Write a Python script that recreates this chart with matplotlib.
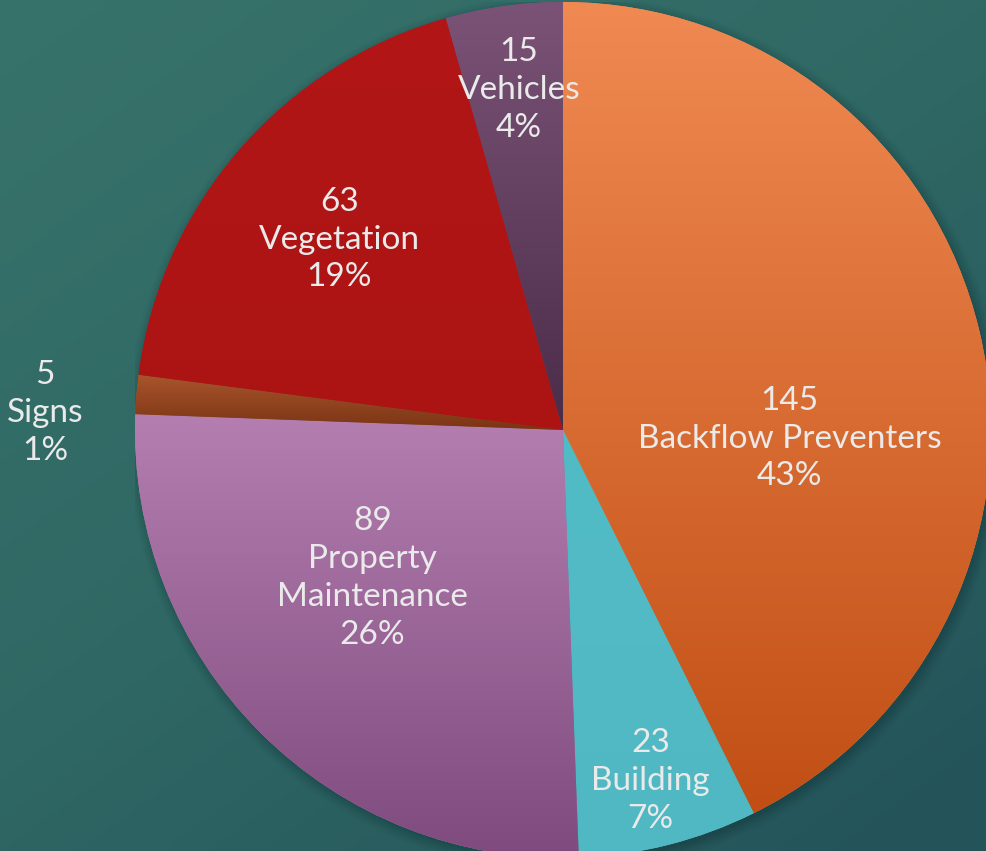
import numpy as np
import matplotlib
matplotlib.use('Agg')
import matplotlib.pyplot as plt
from matplotlib.colors import LinearSegmentedColormap

plt.rcParams['font.family'] = ['Lato', 'DejaVu Sans']

# 数据
categories = ['Backflow Preventers', 'Building', 'Property\nMaintenance',
              'Signs', 'Vegetation', 'Vehicles']
counts = [145, 23, 89, 5, 63, 15]
percents = ['43%', '7%', '26%', '1%', '19%', '4%']

# 每个扇区的渐变色（上 -> 下）
slice_top = ['#F08A52', '#52BCC6', '#B47FB0', '#A9552C', '#B21616', '#7B5377']
slice_bottom = ['#C14F15', '#50B8C2', '#7F4A7D', '#7A3414', '#AC1414', '#4A2C48']

# 标签位置（数据坐标，饼半径=1）
label_pos = [(0.53, -0.02), (0.205, -0.82), (-0.445, -0.345),
             (-1.21, 0.04), (-0.523, 0.445), (-0.103, 0.795)]

W, H = 986, 851
fig = plt.figure(figsize=(W / 100, H / 100), dpi=100)

# 背景渐变
bg = fig.add_axes([0, 0, 1, 1])
bg.set_axis_off()
yy, xx = np.mgrid[0:1:200j, 0:1:200j]
t = np.clip(0.5 * xx + 0.6 * yy - 0.05, 0, 1)
bg_cmap = LinearSegmentedColormap.from_list('bg', ['#37726A', '#2F6764', '#24545A'])
bg.imshow(t, cmap=bg_cmap, extent=[0, 1, 0, 1], aspect='auto', origin='upper')
bg.set_xlim(0, 1)
bg.set_ylim(0, 1)

# 饼图坐标轴：中心 (563, 430)，半径 428 像素
cx, cy, r = 563, 430, 428
ax = fig.add_axes([(cx - r) / W, (H - cy - r) / H, 2 * r / W, 2 * r / H])
ax.set_xlim(-1, 1)
ax.set_ylim(-1, 1)
ax.set_axis_off()

# 阴影
for k, a in zip(np.linspace(1.025, 1.0, 6), np.linspace(0.03, 0.08, 6)):
    ax.add_patch(plt.Circle((0.006, -0.008), k, color='#0c2a2c', alpha=a, lw=0, zorder=0))

wedges, _ = ax.pie(counts, startangle=90, counterclock=False, radius=1,
                   wedgeprops=dict(linewidth=0))

for w, c0, c1 in zip(wedges, slice_top, slice_bottom):
    w.set_facecolor(c0)
    w.set_zorder(1)
    ext = w.get_path().get_extents()
    cm = LinearSegmentedColormap.from_list('g', [c0, c1])
    grad = np.linspace(0, 1, 256).reshape(-1, 1)
    im = ax.imshow(grad, cmap=cm, aspect='auto', origin='upper',
                   extent=[ext.x0, ext.x1, ext.y0, ext.y1], zorder=2)
    im.set_clip_path(w)

ax.set_xlim(-1, 1)
ax.set_ylim(-1, 1)

for (x, y), n, name, p in zip(label_pos, counts, categories, percents):
    ax.text(x, y, f'{n}\n{name}\n{p}', ha='center', va='center',
            fontsize=24, color='#EAEAEA', linespacing=1.33, zorder=5,
            clip_on=False)

fig.savefig('out.png', dpi=100)
plt.close(fig)
